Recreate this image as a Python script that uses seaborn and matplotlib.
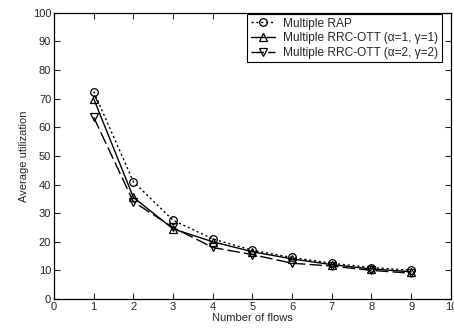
import matplotlib
matplotlib.use("Agg")
import matplotlib.pyplot as plt
import seaborn as sns
import pandas as pd

flows = [1, 2, 3, 4, 5, 6, 7, 8, 9]
rap = [72.5, 41, 27.5, 21, 17, 14.5, 12.5, 11, 10]
rrc_11 = [70, 35.5, 24.5, 20, 16.5, 14, 12, 10.5, 9.5]
rrc_22 = [63.5, 34, 25, 18, 15.5, 12.5, 11.5, 10, 9]
names = ['Multiple RAP',
         'Multiple RRC-OTT (\u03b1=1, \u03b3=1)',
         'Multiple RRC-OTT (\u03b1=2, \u03b3=2)']

df = pd.DataFrame({
    'flows': flows * 3,
    'util': rap + rrc_11 + rrc_22,
    'series': [names[0]] * 9 + [names[1]] * 9 + [names[2]] * 9,
})

sns.set_style('white')
plt.rcParams['font.family'] = ['Liberation Sans', 'DejaVu Sans']

fig = plt.figure(figsize=(4.54, 3.3), dpi=100)
ax = fig.add_axes([0.119, 0.094, 0.874, 0.867])

sns.lineplot(data=df, x='flows', y='util', hue='series', style='series',
             palette=['black'] * 3,
             markers={names[0]: 'o', names[1]: '^', names[2]: 'v'},
             dashes={names[0]: (1.5, 2), names[1]: '', names[2]: (9, 3)},
             markersize=5.5, markerfacecolor='none', markeredgecolor='black',
             markeredgewidth=0.9, linewidth=1.0, ax=ax)

ax.set_xlim(0, 10)
ax.set_ylim(0, 100)
ax.set_xticks(range(0, 11))
ax.set_yticks(range(0, 101, 10))
ax.tick_params(direction='in', length=4, labelsize=8, width=0.8,
               top=True, right=True, bottom=True, left=True, pad=2)
for s in ax.spines.values():
    s.set_color('black')
    s.set_linewidth(0.9)
ax.set_xlabel('Number of flows', fontsize=8, labelpad=1)
ax.set_ylabel('Average utilization', fontsize=8, labelpad=3)

leg = ax.legend(loc='upper right', bbox_to_anchor=(0.98, 1.0),
                fontsize=8.6, fancybox=False,
                edgecolor='black', framealpha=1, handlelength=2.0,
                borderaxespad=0.1, labelspacing=0.22, borderpad=0.3,
                handletextpad=0.7)
leg.get_frame().set_linewidth(0.8)

fig.savefig('out.png', dpi=100)
